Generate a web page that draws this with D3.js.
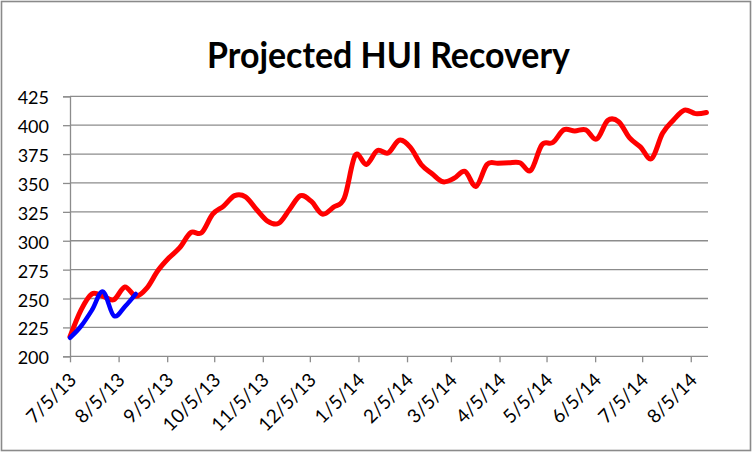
<!DOCTYPE html>
<html><head><meta charset="utf-8">
<script src="https://cdn.jsdelivr.net/npm/d3@7"></script>
<style>
html,body{margin:0;padding:0;background:#fff;}
svg{display:block;}
text{font-family:Lato,"Open Sans",sans-serif;fill:#000;}
</style></head>
<body>
<script>
const title = "Projected HUI Recovery";
const redDates = ["2013-07-05","2013-07-12","2013-07-19","2013-07-26","2013-08-02","2013-08-09","2013-08-16","2013-08-23","2013-08-30",
"2013-09-06","2013-09-13","2013-09-20","2013-09-27","2013-10-04","2013-10-11","2013-10-18","2013-10-25",
"2013-11-01","2013-11-08","2013-11-15","2013-11-22","2013-11-29","2013-12-06","2013-12-13","2013-12-20","2013-12-27",
"2014-01-03","2014-01-10","2014-01-17","2014-01-24","2014-01-31","2014-02-07","2014-02-14","2014-02-21","2014-02-28",
"2014-03-07","2014-03-14","2014-03-21","2014-03-28","2014-04-04","2014-04-11","2014-04-18","2014-04-25",
"2014-05-02","2014-05-09","2014-05-16","2014-05-23","2014-05-30","2014-06-06","2014-06-13","2014-06-20","2014-06-27",
"2014-07-04","2014-07-11","2014-07-18","2014-07-25","2014-08-01","2014-08-08","2014-08-15"];
const redValues = [217,240,254,252,249,260,252,259,274,
285,294,307,307,323,330,339,338,
327,317,315,327,339,334,323,329,337,
374,366,378,376,387,381,366,358,351,
354,360,347,366,367,367.5,367.5,361,
383,385,396,395,396,388,404,403,389,
381,371,393,404.5,413,410,411];
const blueDates = ["2013-07-05","2013-07-12","2013-07-19","2013-07-26","2013-08-02","2013-08-09","2013-08-16"];
const blueValues = [216,226,240,256,235,243,254];
const xTickDates = ["2013-07-05","2013-08-05","2013-09-05","2013-10-05","2013-11-05","2013-12-05","2014-01-05",
"2014-02-05","2014-03-05","2014-04-05","2014-05-05","2014-06-05","2014-07-05","2014-08-05"];
const yTicks = [200,225,250,275,300,325,350,375,400,425];
const xDomain = ["2013-07-05","2014-08-16"];

const W = 753, H = 453;
const parse = d3.utcParse("%Y-%m-%d");
const fmt = d => (d.getUTCMonth()+1) + "/" + d.getUTCDate() + "/" + String(d.getUTCFullYear()).slice(2);

const svg = d3.select("body").append("svg").attr("width", W).attr("height", H);
svg.append("rect").attr("x",1.5).attr("y",1.5).attr("width",749).attr("height",449)
  .attr("fill","#fff").attr("stroke","#8a8a8a").attr("stroke-width",1.6);

const x = d3.scaleUtc().domain(xDomain.map(parse)).range([70, 708]);
const y = d3.scaleLinear().domain([200, 425]).range([356.3, 96.3]);

// title
svg.append("text").attr("x", 388.5).attr("y", 68.3).attr("text-anchor","middle")
  .attr("font-size", 36).attr("font-weight", "bold")
  .attr("textLength", 363).attr("lengthAdjust","spacingAndGlyphs").text(title);

// gridlines
svg.append("g").selectAll("line").data(yTicks.filter(v => v > 200)).join("line")
  .attr("x1", 70).attr("x2", 708).attr("y1", d => y(d)).attr("y2", d => y(d))
  .attr("stroke", "#8c8c8c").attr("stroke-width", 1.3);

// y axis
const yAxis = d3.axisLeft(y).tickValues(yTicks).tickSize(7).tickPadding(13).tickFormat(d3.format("d"));
const gy = svg.append("g").attr("transform","translate(70,0)").call(yAxis);
gy.select(".domain").attr("stroke","#8c8c8c").attr("stroke-width",1.3);
gy.selectAll(".tick line").attr("stroke","#8c8c8c").attr("stroke-width",1.3);
gy.selectAll(".tick text").attr("font-size",18).attr("font-family","Lato,'Open Sans',sans-serif").attr("fill","#000")
  .attr("x",-21).attr("dy","0.42em");

// x axis
const xAxis = d3.axisBottom(x).tickValues(xTickDates.map(parse)).tickSize(6).tickFormat(fmt);
const gx = svg.append("g").attr("transform","translate(0,356.3)").call(xAxis);
gx.select(".domain").attr("stroke","#8c8c8c").attr("stroke-width",1.3).attr("d","M70,0H708");
gx.selectAll(".tick line").attr("stroke","#8c8c8c").attr("stroke-width",1.3);
gx.selectAll(".tick text").attr("font-size",19).attr("font-family","Lato,'Open Sans',sans-serif").attr("fill","#000")
  .attr("text-anchor","end").attr("dy",null).attr("y",0)
  .attr("transform","translate(7,25) rotate(-45)");

// lines
const line = d3.line().x(d => x(d[0])).y(d => y(d[1])).curve(d3.curveCardinal.tension(0));
const red = redDates.map((d,i) => [parse(d), redValues[i]]);
const blue = blueDates.map((d,i) => [parse(d), blueValues[i]]);
svg.append("path").datum(red).attr("d", line).attr("fill","none").attr("stroke","#ff0000")
  .attr("stroke-width",5).attr("stroke-linejoin","round").attr("stroke-linecap","round");
svg.append("path").datum(blue).attr("d", line).attr("fill","none").attr("stroke","#0000ff")
  .attr("stroke-width",4.5).attr("stroke-linejoin","round").attr("stroke-linecap","round");
</script>
</body></html>
